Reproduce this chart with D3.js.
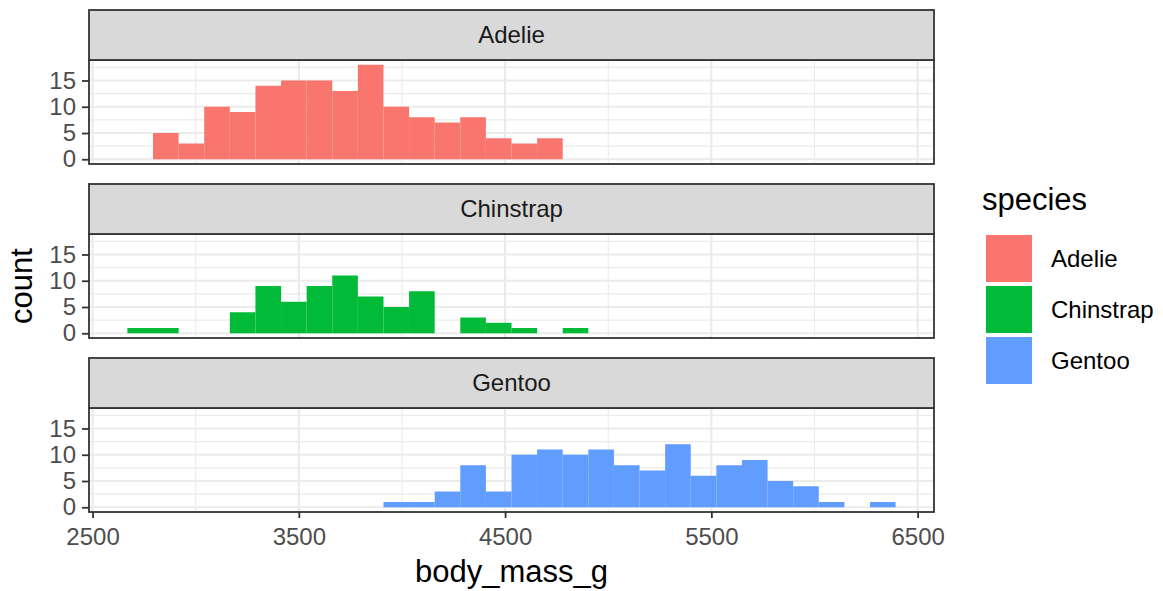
<!DOCTYPE html>
<html>
<head>
<meta charset="utf-8">
<script src="https://cdn.jsdelivr.net/npm/d3@7"></script>
<style>
  body { margin: 0; background: #fff; }
  text { font-family: "Liberation Sans", Arial, sans-serif; }
</style>
</head>
<body>
<div id="chart"></div>
<script>
// histogram bins (30 bins, as ggplot chose them)
var binStart = 2668.97;
var binWidth = 124.14;

var species = ["Adelie", "Chinstrap", "Gentoo"];
var speciesColors = ["#F8766D", "#00BA38", "#619CFF"];

var adelieCounts    = [0,5,3,10,9,14,15,15,13,18,10,8,7,8,4,3,4,0,0,0,0,0,0,0,0,0,0,0,0,0];
var chinstrapCounts = [1,1,0,0,4,9,6,9,11,7,5,8,0,3,2,1,0,1,0,0,0,0,0,0,0,0,0,0,0,0];
var gentooCounts    = [0,0,0,0,0,0,0,0,0,0,1,1,3,8,3,10,11,10,11,8,7,12,6,8,9,5,4,1,0,1];

var xTicks = [2500, 3500, 4500, 5500, 6500];
var xMinor = [3000, 4000, 5000, 6000];
var yTicks = [0, 5, 10, 15];
var yMinor = [2.5, 7.5, 12.5, 17.5];

var allCounts = [adelieCounts, chinstrapCounts, gentooCounts];

var width = 1163, height = 591;
var panelLeft = 89, panelRight = 934;
var stripH = 50, panelH = 104, facetGap = 20, topY = 10;
var smallFont = 24, bigFont = 31;

var svg = d3.select("#chart").append("svg")
  .attr("width", width)
  .attr("height", height);

// x domain: bin range expanded by 5%
var lo = binStart, hi = binStart + binWidth * adelieCounts.length;
var pad = (hi - lo) * 0.05;
var x = d3.scaleLinear().domain([lo - pad, hi + pad]).range([panelLeft, panelRight]);

var yMax = d3.max(allCounts, c => d3.max(c));
var yPad = yMax * 0.05;

allCounts.forEach(function(counts, k) {
  var stripTop = topY + k * (stripH + panelH + facetGap);
  var pTop = stripTop + stripH;
  var pBottom = pTop + panelH;

  var y = d3.scaleLinear().domain([-yPad, yMax + yPad]).range([pBottom, pTop]);

  var g = svg.append("g");

  // panel background
  g.append("rect")
    .attr("x", panelLeft).attr("y", pTop)
    .attr("width", panelRight - panelLeft).attr("height", panelH)
    .attr("fill", "#fff");

  // minor grid
  g.selectAll(".xminor").data(xMinor).enter().append("line")
    .attr("x1", d => x(d)).attr("x2", d => x(d))
    .attr("y1", pTop).attr("y2", pBottom)
    .attr("stroke", "#EBEBEB").attr("stroke-width", 1.1);
  g.selectAll(".yminor").data(yMinor).enter().append("line")
    .attr("x1", panelLeft).attr("x2", panelRight)
    .attr("y1", d => y(d)).attr("y2", d => y(d))
    .attr("stroke", "#EBEBEB").attr("stroke-width", 1.1);

  // major grid
  g.selectAll(".xmajor").data(xTicks).enter().append("line")
    .attr("x1", d => x(d)).attr("x2", d => x(d))
    .attr("y1", pTop).attr("y2", pBottom)
    .attr("stroke", "#EBEBEB").attr("stroke-width", 2.2);
  g.selectAll(".ymajor").data(yTicks).enter().append("line")
    .attr("x1", panelLeft).attr("x2", panelRight)
    .attr("y1", d => y(d)).attr("y2", d => y(d))
    .attr("stroke", "#EBEBEB").attr("stroke-width", 2.2);

  // bars
  g.selectAll(".bar").data(counts).enter().append("rect")
    .attr("x", (d, i) => x(binStart + i * binWidth))
    .attr("width", (d, i) => x(binStart + (i + 1) * binWidth) - x(binStart + i * binWidth))
    .attr("y", d => y(d))
    .attr("height", d => y(0) - y(d))
    .attr("fill", speciesColors[k]);

  // panel border
  g.append("rect")
    .attr("x", panelLeft).attr("y", pTop)
    .attr("width", panelRight - panelLeft).attr("height", panelH)
    .attr("fill", "none").attr("stroke", "#333333").attr("stroke-width", 1.8);

  // strip
  g.append("rect")
    .attr("x", panelLeft).attr("y", stripTop)
    .attr("width", panelRight - panelLeft).attr("height", stripH)
    .attr("fill", "#D9D9D9").attr("stroke", "#333333").attr("stroke-width", 1.8);
  g.append("text")
    .attr("x", (panelLeft + panelRight) / 2).attr("y", stripTop + stripH / 2)
    .attr("dy", "0.35em")
    .attr("text-anchor", "middle")
    .attr("font-size", smallFont)
    .attr("fill", "#1A1A1A")
    .text(species[k]);

  // y axis
  var yAxis = g.append("g")
    .attr("transform", "translate(" + panelLeft + ",0)")
    .call(d3.axisLeft(y).tickValues(yTicks).tickSize(7).tickPadding(6));
  yAxis.select(".domain").remove();
  yAxis.selectAll(".tick line").attr("stroke", "#333333").attr("stroke-width", 1.8);
  yAxis.selectAll(".tick text")
    .attr("font-size", smallFont).attr("fill", "#4D4D4D")
    .style("font-family", "'Liberation Sans', Arial, sans-serif");

  // x axis on bottom panel only
  if (k === allCounts.length - 1) {
    var xAxis = g.append("g")
      .attr("transform", "translate(0," + pBottom + ")")
      .call(d3.axisBottom(x).tickValues(xTicks).tickSize(6).tickPadding(10).tickFormat(d3.format("d")));
    xAxis.select(".domain").remove();
    xAxis.selectAll(".tick line").attr("stroke", "#333333").attr("stroke-width", 1.8);
    xAxis.selectAll(".tick text")
      .attr("font-size", smallFont).attr("fill", "#4D4D4D")
      .style("font-family", "'Liberation Sans', Arial, sans-serif");

    svg.append("text")
      .attr("x", (panelLeft + panelRight) / 2).attr("y", 582)
      .attr("text-anchor", "middle")
      .attr("font-size", bigFont)
      .attr("fill", "#000")
      .text("body_mass_g");
  }
});

// y title
svg.append("text")
  .attr("transform", "translate(32,286) rotate(-90)")
  .attr("text-anchor", "middle")
  .attr("font-size", bigFont)
  .attr("fill", "#000")
  .text("count");

// legend
var legend = svg.append("g").attr("transform", "translate(982,0)");
legend.append("text")
  .attr("x", 0).attr("y", 210)
  .attr("font-size", bigFont)
  .attr("fill", "#000")
  .text("species");

var keys = legend.selectAll(".key").data(species).enter().append("g")
  .attr("transform", (d, i) => "translate(4," + (235 + i * 51) + ")");
keys.append("rect")
  .attr("width", 46).attr("height", 47)
  .attr("fill", (d, i) => speciesColors[i]);
keys.append("text")
  .attr("x", 65).attr("y", 23.5)
  .attr("dy", "0.35em")
  .attr("font-size", smallFont)
  .attr("fill", "#000")
  .text(d => d);
</script>
</body>
</html>
